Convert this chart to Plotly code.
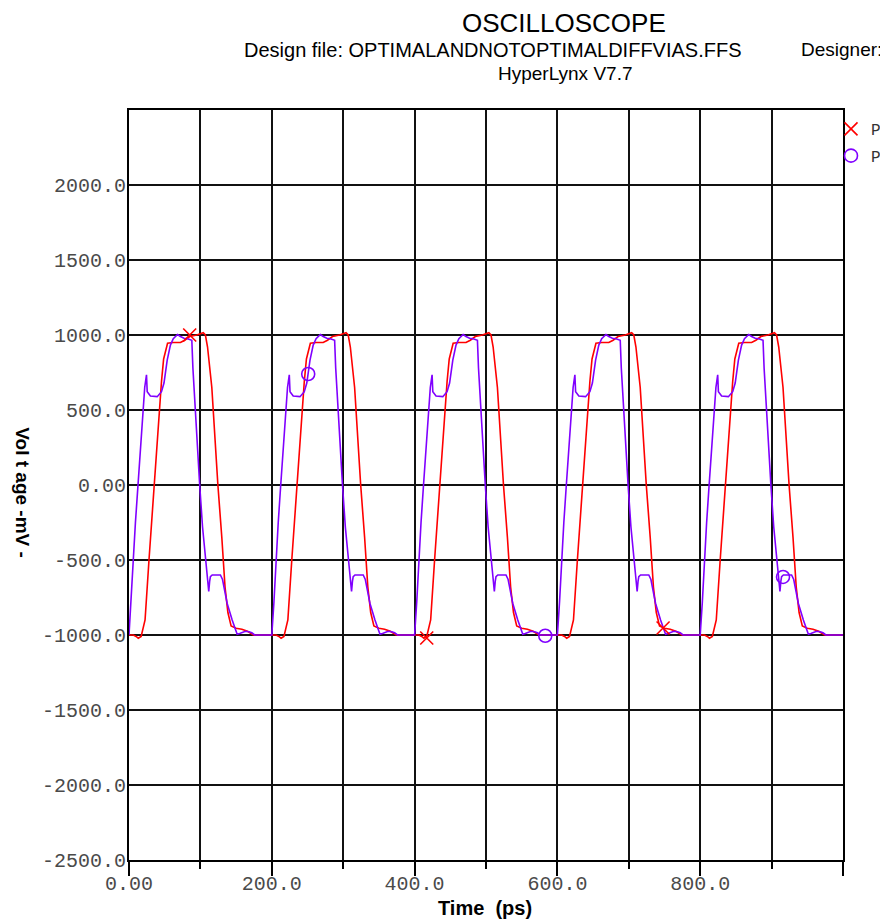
import plotly.graph_objects as go

# ---- data (time in ps, voltage in mV) ----
red_time = [
    0, 6, 10, 13, 17, 22.5, 28, 31.5, 35, 38.5, 42, 45.5, 48.5, 51.5, 54, 62, 72, 78, 85, 95,
    101, 104, 107, 110, 116, 120, 124.5, 130, 134.5, 138.5, 143, 150, 158, 166, 174,
    200, 206, 210, 213, 217, 222.5, 228, 231.5, 235, 238.5, 242, 245.5, 248.5, 251.5, 254, 262, 272, 278, 285, 295,
    301, 304, 307, 310, 316, 320, 324.5, 330, 334.5, 338.5, 343, 350, 358, 366, 374,
    400, 406, 410, 413, 417, 422.5, 428, 431.5, 435, 438.5, 442, 445.5, 448.5, 451.5, 454, 462, 472, 478, 485, 495,
    501, 504, 507, 510, 516, 520, 524.5, 530, 534.5, 538.5, 543, 550, 558, 566, 574,
    600, 606, 610, 613, 617, 622.5, 628, 631.5, 635, 638.5, 642, 645.5, 648.5, 651.5, 654, 662, 672, 678, 685, 695,
    701, 704, 707, 710, 716, 720, 724.5, 730, 734.5, 738.5, 743, 750, 758, 766, 774,
    800, 806, 810, 813, 817, 822.5, 828, 831.5, 835, 838.5, 842, 845.5, 848.5, 851.5, 854, 862, 872, 878, 885, 895,
    901, 904, 907, 910, 916, 920, 924.5, 930, 934.5, 938.5, 943, 950, 958, 966, 974,
    1000,
]
red_volt = [
    -1000, -1000, -1010, -1022, -1010, -900, -500, -250, 0, 250, 500, 690, 840, 910, 945, 950, 950, 965, 990, 1000,
    1013, 1015, 1000, 920, 650, 320, 0, -350, -680, -850, -940, -955, -962, -975, -1000,
    -1000, -1000, -1010, -1022, -1010, -900, -500, -250, 0, 250, 500, 690, 840, 910, 945, 950, 950, 965, 990, 1000,
    1013, 1015, 1000, 920, 650, 320, 0, -350, -680, -850, -940, -955, -962, -975, -1000,
    -1000, -1000, -1010, -1022, -1010, -900, -500, -250, 0, 250, 500, 690, 840, 910, 945, 950, 950, 965, 990, 1000,
    1013, 1015, 1000, 920, 650, 320, 0, -350, -680, -850, -940, -955, -962, -975, -1000,
    -1000, -1000, -1010, -1022, -1010, -900, -500, -250, 0, 250, 500, 690, 840, 910, 945, 950, 950, 965, 990, 1000,
    1013, 1015, 1000, 920, 650, 320, 0, -350, -680, -850, -940, -955, -962, -975, -1000,
    -1000, -1000, -1010, -1022, -1010, -900, -500, -250, 0, 250, 500, 690, 840, 910, 945, 950, 950, 965, 990, 1000,
    1013, 1015, 1000, 920, 650, 320, 0, -350, -680, -850, -940, -955, -962, -975, -1000,
    -1000,
]

purple_time = [
    0, 3, 6, 9, 12.5, 16, 19, 22, 24.5, 25.5, 30, 39.5, 45.5, 49, 53.5, 58, 62, 66, 68, 72, 77, 82, 85, 88,
    89.5, 92, 96, 99, 103, 107, 110, 111.7, 113, 114, 116.5, 128, 131, 133, 137.5, 144.5, 149, 151.5, 155, 159, 163, 168, 172, 176,
    200, 203, 206, 209, 212.5, 216, 219, 222, 224.5, 225.5, 230, 239.5, 245.5, 249, 253.5, 258, 262, 266, 268, 272, 277, 282, 285, 288,
    289.5, 292, 296, 299, 303, 307, 310, 311.7, 313, 314, 316.5, 328, 331, 333, 337.5, 344.5, 349, 351.5, 355, 359, 363, 368, 372, 376,
    400, 403, 406, 409, 412.5, 416, 419, 422, 424.5, 425.5, 430, 439.5, 445.5, 449, 453.5, 458, 462, 466, 468, 472, 477, 482, 485, 488,
    489.5, 492, 496, 499, 503, 507, 510, 511.7, 513, 514, 516.5, 528, 531, 533, 537.5, 544.5, 549, 551.5, 555, 559, 563, 568, 572, 576,
    600, 603, 606, 609, 612.5, 616, 619, 622, 624.5, 625.5, 630, 639.5, 645.5, 649, 653.5, 658, 662, 666, 668, 672, 677, 682, 685, 688,
    689.5, 692, 696, 699, 703, 707, 710, 711.7, 713, 714, 716.5, 728, 731, 733, 737.5, 744.5, 749, 751.5, 755, 759, 763, 768, 772, 776,
    800, 803, 806, 809, 812.5, 816, 819, 822, 824.5, 825.5, 830, 839.5, 845.5, 849, 853.5, 858, 862, 866, 868, 872, 877, 882, 885, 888,
    889.5, 892, 896, 899, 903, 907, 910, 911.7, 913, 914, 916.5, 928, 931, 933, 937.5, 944.5, 949, 951.5, 955, 959, 963, 968, 972, 976,
    1000,
]
purple_volt = [
    -1000, -780, -500, -250, 0, 250, 500, 650, 735, 622, 593, 589, 622, 680, 833, 933, 975, 995, 1003, 990, 978, 975, 970, 965,
    780, 550, 250, 0, -280, -500, -650, -710, -640, -611, -600, -600, -630, -680, -790, -900, -960, -995, -990, -985, -975, -978, -985, -1000,
    -1000, -780, -500, -250, 0, 250, 500, 650, 735, 622, 593, 589, 622, 680, 833, 933, 975, 995, 1003, 990, 978, 975, 970, 965,
    780, 550, 250, 0, -280, -500, -650, -710, -640, -611, -600, -600, -630, -680, -790, -900, -960, -995, -990, -985, -975, -978, -985, -1000,
    -1000, -780, -500, -250, 0, 250, 500, 650, 735, 622, 593, 589, 622, 680, 833, 933, 975, 995, 1003, 990, 978, 975, 970, 965,
    780, 550, 250, 0, -280, -500, -650, -710, -640, -611, -600, -600, -630, -680, -790, -900, -960, -995, -990, -985, -975, -978, -985, -1000,
    -1000, -780, -500, -250, 0, 250, 500, 650, 735, 622, 593, 589, 622, 680, 833, 933, 975, 995, 1003, 990, 978, 975, 970, 965,
    780, 550, 250, 0, -280, -500, -650, -710, -640, -611, -600, -600, -630, -680, -790, -900, -960, -995, -990, -985, -975, -978, -985, -1000,
    -1000, -780, -500, -250, 0, 250, 500, 650, 735, 622, 593, 589, 622, 680, 833, 933, 975, 995, 1003, 990, 978, 975, 970, 965,
    780, 550, 250, 0, -280, -500, -650, -710, -640, -611, -600, -600, -630, -680, -790, -900, -960, -995, -990, -985, -975, -978, -985, -1000,
    -1000,
]

red_marker_time = [85, 417, 748]
red_marker_volt = [1000, -1020, -953]
purple_marker_time = [251, 583, 916]
purple_marker_volt = [740, -1005, -613]

probe_names = ["Probe 1:U1.1 (at die)", "Probe 2:U2.1 (at die)"]

x_tickvals = [0, 200, 400, 600, 800, 1000]
x_ticktext = ["0.00", "200.0", "400.0", "600.0", "800.0", ""]
x_minor_vals = [100, 300, 500, 700, 900]
y_tickvals = [-2500, -2000, -1500, -1000, -500, 0, 500, 1000, 1500, 2000]
y_ticktext = ["-2500.0", "-2000.0", "-1500.0", "-1000.0", "-500.0", "0.00",
              "500.0", "1000.0", "1500.0", "2000.0"]

RED = "#ff0000"
PURPLE = "#8000ff"
MONO = "Liberation Mono, Courier New, monospace"
SANS = "Liberation Sans, Arial, sans-serif"
TICKCOL = "#4a4a4a"

fig = go.Figure()
fig.add_trace(go.Scatter(x=red_time, y=red_volt, mode="lines",
                         line=dict(color=RED, width=1.6), showlegend=False, hoverinfo="skip"))
fig.add_trace(go.Scatter(x=purple_time, y=purple_volt, mode="lines",
                         line=dict(color=PURPLE, width=1.6), showlegend=False, hoverinfo="skip"))
fig.add_trace(go.Scatter(x=red_marker_time, y=red_marker_volt, mode="markers", name=probe_names[0],
                         legendgroup="a",
                         marker=dict(symbol="x-thin-open", size=13, color=RED,
                                     line=dict(color=RED, width=1.6))))
fig.add_trace(go.Scatter(x=purple_marker_time, y=purple_marker_volt, mode="markers", name=probe_names[1],
                         legendgroup="b",
                         marker=dict(symbol="circle-open", size=13, color=PURPLE,
                                     line=dict(color=PURPLE, width=1.6))))

GRID = "#111111"
fig.update_layout(
    width=880, height=911,
    margin=dict(l=121, r=45, t=102, b=59, autoexpand=False),
    paper_bgcolor="white", plot_bgcolor="white",
    showlegend=True,
    legend=dict(x=0.9832, xanchor="left", y=0.9974, yanchor="top",
                bgcolor="rgba(0,0,0,0)", borderwidth=0, tracegroupgap=3,
                font=dict(family=MONO, size=16, color="#333333")),
    xaxis=dict(range=[0, 1000], tickmode="array", tickvals=x_tickvals, ticktext=x_ticktext,
               ticks="outside", ticklen=14, tickwidth=1.5, tickcolor="black",
               ticklabelstandoff=-10,
               showgrid=True, gridcolor=GRID, gridwidth=1.6,
               minor=dict(tickmode="array", tickvals=x_minor_vals, ticks="outside", ticklen=7,
                          tickwidth=1.5, tickcolor="black", showgrid=True,
                          gridcolor=GRID, gridwidth=1.6),
               showline=True, linecolor="black", linewidth=2, mirror=True, zeroline=False,
               tickfont=dict(family=MONO, size=20, color=TICKCOL)),
    yaxis=dict(range=[-2500, 2500], tickmode="array", tickvals=y_tickvals, ticktext=y_ticktext,
               ticks="", ticklen=0, showgrid=True, gridcolor=GRID, gridwidth=1.6,
               showline=True, linecolor="black", linewidth=2, mirror=True, zeroline=False,
               ticklabelstandoff=-3,
               tickfont=dict(family=MONO, size=20, color=TICKCOL)),
    annotations=[
        dict(text="OSCILLOSCOPE", xref="paper", yref="paper", x=0.6092, y=1.116,
             xanchor="center", yanchor="middle", showarrow=False,
             font=dict(family=SANS, size=26, color="black")),
        dict(text="Design file: OPTIMALANDNOTOPTIMALDIFFVIAS.FFS", xref="paper", yref="paper",
             x=0.5105, y=1.08, xanchor="center", yanchor="middle", showarrow=False,
             font=dict(family=SANS, size=20, color="black")),
        dict(text="Designer:", xref="paper", yref="paper", x=0.9384, y=1.08,
             xanchor="left", yanchor="middle", showarrow=False,
             font=dict(family=SANS, size=19, color="black")),
        dict(text="HyperLynx V7.7", xref="paper", yref="paper", x=0.61, y=1.048,
             xanchor="center", yanchor="middle", showarrow=False,
             font=dict(family=SANS, size=19, color="black")),
        dict(text="<b>Vol t age -mV -</b>", xref="paper", yref="paper", x=-0.1485, y=0.489,
             xanchor="center", yanchor="middle", textangle=90, showarrow=False,
             font=dict(family=SANS, size=19, color="black")),
        dict(text="<b>Time\u00a0 (ps)</b>", xref="paper", yref="paper", x=0.4986, y=-0.064,
             xanchor="center", yanchor="middle", showarrow=False,
             font=dict(family=SANS, size=20, color="black")),
    ],
)

fig.write_html("out.html")
